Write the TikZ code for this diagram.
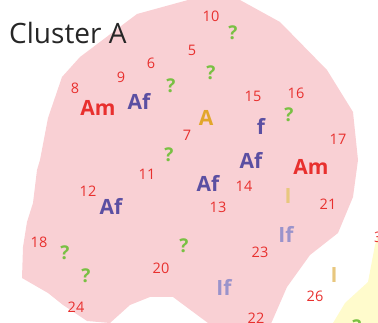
\documentclass[tikz,border=0pt]{standalone}
\usepackage{fontspec}
\setmainfont{Open Sans}
\definecolor{zonepink}{HTML}{F9D0D4}
\definecolor{zoneyellow}{HTML}{FFFBCC}
\definecolor{numred}{HTML}{E8302E}
\definecolor{afpurple}{HTML}{5B4FA2}
\definecolor{ifpurple}{HTML}{9A93CB}
\definecolor{qgreen}{HTML}{79C043}
\definecolor{aorange}{HTML}{E2A62A}
\definecolor{itan}{HTML}{E8C77E}
\tikzset{
  numlbl/.style={text=numred,font=\fontsize{14.5}{14.5}\selectfont,inner sep=0pt},
  amlbl/.style={text=numred,font=\fontsize{21}{21}\selectfont\bfseries,inner sep=0pt},
  aflbl/.style={text=afpurple,font=\fontsize{21}{21}\selectfont\bfseries,inner sep=0pt},
  iflbl/.style={text=ifpurple,font=\fontsize{21}{21}\selectfont\bfseries,inner sep=0pt},
  qlbl/.style={text=qgreen,font=\fontsize{19}{19}\selectfont\bfseries,inner sep=0pt},
  alb/.style={text=aorange,font=\fontsize{21}{21}\selectfont\bfseries,inner sep=0pt},
  ilbl/.style={text=itan,font=\fontsize{21}{21}\selectfont\bfseries,inner sep=0pt}
}
\begin{document}
\begin{tikzpicture}[x=1pt,y=-1pt]
    \useasboundingbox (0,0) rectangle (378,323);
    \clip (0,0) rectangle (378,323);
    % zones
    \fill[zonepink] (137,14) -- (188,0) -- (240,0) -- (280,22) -- (327,70)
      -- (353,112) -- (358,160) -- (353,197) -- (338,233) -- (310,255)
      -- (287,287) -- (270,326) -- (212,326) -- (173,297) -- (150,297)
      -- (130,305) -- (110,323) -- (87,321) -- (63,305) -- (48,293)
      -- (22,278) -- (23,247) -- (27,222) -- (33,203) -- (37,170)
      -- (40,160) -- (48,118) -- (62,77) -- (80,57) -- cycle;
    \fill[zoneyellow] (378,236) -- (375,245) -- (368,282) -- (345,303)
      -- (333,323) -- (378,323) -- cycle;
    % title
    \node[anchor=west,inner sep=0pt,text=black!85,font=\fontsize{28}{28}\selectfont]
      (title) at (9,33) {Cluster A};
    % numbers
    \node[numlbl] (n5) at (192,50) {5};
    \node[numlbl] (n6) at (151,63) {6};
    \node[numlbl] (n7) at (187,135) {7};
    \node[numlbl] (n8) at (75,88) {8};
    \node[numlbl] (n9) at (121,77) {9};
    \node[numlbl] (n10) at (211,16) {10};
    \node[numlbl] (n11) at (147,174) {11};
    \node[numlbl] (n12) at (88,191) {12};
    \node[numlbl] (n13) at (218,207) {13};
    \node[numlbl] (n14) at (244,186) {14};
    \node[numlbl] (n15) at (253,96) {15};
    \node[numlbl] (n16) at (296,93) {16};
    \node[numlbl] (n17) at (338,139) {17};
    \node[numlbl] (n18) at (39,242) {18};
    \node[numlbl] (n20) at (161,268) {20};
    \node[numlbl] (n21) at (328,204) {21};
    \node[numlbl] (n22) at (256,318) {22};
    \node[numlbl] (n23) at (260,252) {23};
    \node[numlbl] (n24) at (76,307) {24};
    \node[numlbl] (n26) at (315,296) {26};
    \node[numlbl,anchor=west] (n3) at (374,237) {3};
    % species
    \node[amlbl] (am1) at (98,108) {Am};
    \node[amlbl] (am2) at (311,167) {Am};
    \node[aflbl] (af1) at (139,101) {Af};
    \node[aflbl] (af2) at (251,160) {Af};
    \node[aflbl] (af3) at (208,183) {Af};
    \node[aflbl] (af4) at (111,206) {Af};
    \node[aflbl] (f1) at (261,126) {f};
    \node[alb] (a1) at (206,118) {A};
    \node[iflbl] (if1) at (286,234) {If};
    \node[iflbl] (if2) at (224,287) {If};
    \node[ilbl] (i1) at (288,196) {I};
    \node[ilbl] (i2) at (334,275) {I};
    % unknowns
    \node[qlbl] (q1) at (233,33) {?};
    \node[qlbl] (q2) at (211,73) {?};
    \node[qlbl] (q3) at (171,86) {?};
    \node[qlbl] (q4) at (289,115) {?};
    \node[qlbl] (q5) at (169,155) {?};
    \node[qlbl] (q6) at (65,253) {?};
    \node[qlbl] (q7) at (86,276) {?};
    \node[qlbl] (q8) at (184,246) {?};
    \node[qlbl] (q9) at (357,327) {?};
\end{tikzpicture}
\end{document}
